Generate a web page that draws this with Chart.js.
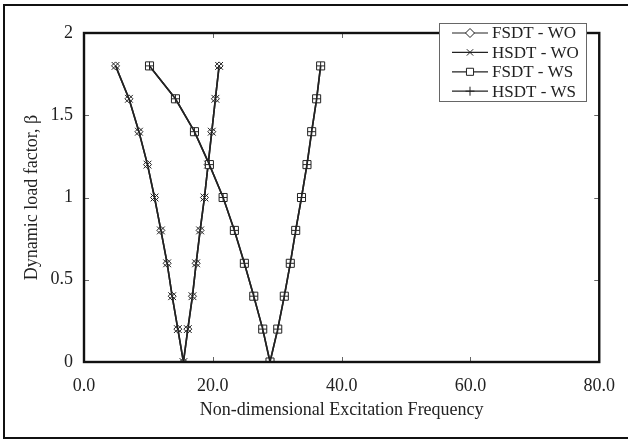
<!DOCTYPE html>
<html>
<head>
<meta charset="utf-8">
<script src="https://cdn.jsdelivr.net/npm/chart.js@4.4.0/dist/chart.umd.min.js"></script>
<style>
  html, body { margin: 0; padding: 0; background: #fff; }
  #wrap { width: 628px; height: 440px; }
</style>
</head>
<body>
<div id="wrap"><canvas id="chart" width="628" height="440"></canvas></div>
<script>
// beta levels, walking down the left branch and back up the right one
const betaLevels = [1.8, 1.6, 1.4, 1.2, 1.0, 0.8, 0.6, 0.4, 0.2, 0.0, 0.2, 0.4, 0.6, 0.8, 1.0, 1.2, 1.4, 1.6, 1.8];

const fsdtWO = [4.90, 6.98, 8.53, 9.86, 10.95, 11.94, 12.91, 13.69, 14.57, 15.44, 16.12, 16.84, 17.41, 18.03, 18.70, 19.27, 19.84, 20.40, 20.98];
const hsdtWO = [4.90, 6.98, 8.53, 9.86, 10.95, 11.94, 12.91, 13.69, 14.57, 15.44, 16.12, 16.84, 17.41, 18.03, 18.70, 19.27, 19.84, 20.40, 20.98];
const fsdtWS = [10.17, 14.20, 17.15, 19.47, 21.60, 23.35, 24.90, 26.36, 27.75, 28.88, 30.08, 31.10, 32.03, 32.87, 33.77, 34.62, 35.35, 36.12, 36.74];
const hsdtWS = [10.17, 14.20, 17.15, 19.47, 21.60, 23.35, 24.90, 26.36, 27.75, 28.88, 30.08, 31.10, 32.03, 32.87, 33.77, 34.62, 35.35, 36.12, 36.74];

const seriesLabels = ["FSDT - WO", "HSDT - WO", "FSDT - WS", "HSDT - WS"];
const xTicks = [0, 20, 40, 60, 80];
const yTicks = [0, 0.5, 1, 1.5, 2];

const FONT = "'Liberation Serif', 'Times New Roman', serif";
const INK = "#222";

function toPoints(xs) {
    return xs.map((x, i) => ({ x: x, y: betaLevels[i] }));
}

function makeSet(label, xs, style, radius, order) {
    return {
        label: label,
        data: toPoints(xs),
        showLine: true,
        borderColor: INK,
        borderWidth: 1.6,
        pointStyle: style,
        pointRadius: radius,
        pointHoverRadius: radius,
        pointBorderWidth: 1,
        pointBorderColor: INK,
        pointBackgroundColor: "#fff",
        backgroundColor: "#fff",
        order: order,
    };
}

// frame, inward ticks and the boxed legend
const decorations = {
    id: "decorations",
    beforeDraw(chart) {
        const ctx = chart.ctx;
        ctx.save();
        ctx.fillStyle = "#fff";
        ctx.fillRect(0, 0, chart.width, chart.height);
        ctx.strokeStyle = "#111";
        ctx.lineWidth = 2;
        ctx.strokeRect(4, 5, 660, 433);
        ctx.restore();
    },
    afterDatasetsDraw(chart) {
        const ctx = chart.ctx;
        const a = chart.chartArea;
        const xs = chart.scales.x;
        const ys = chart.scales.y;
        ctx.save();
        ctx.strokeStyle = "#666";
        ctx.lineWidth = 1;
        xTicks.slice(1, -1).forEach((v) => {
            const px = Math.round(xs.getPixelForValue(v)) + 0.5;
            ctx.beginPath();
            ctx.moveTo(px, a.bottom);
            ctx.lineTo(px, a.bottom - 5);
            ctx.moveTo(px, a.top);
            ctx.lineTo(px, a.top + 5);
            ctx.stroke();
        });
        yTicks.slice(1, -1).forEach((v) => {
            const py = Math.round(ys.getPixelForValue(v)) + 0.5;
            ctx.beginPath();
            ctx.moveTo(a.left, py);
            ctx.lineTo(a.left + 5, py);
            ctx.moveTo(a.right, py);
            ctx.lineTo(a.right - 5, py);
            ctx.stroke();
        });
        ctx.strokeStyle = "#111";
        ctx.lineWidth = 2.4;
        ctx.strokeRect(a.left, a.top, a.right - a.left, a.bottom - a.top);

        // legend box
        const bx = 439, by = 23, bw = 147, bh = 78;
        ctx.fillStyle = "#fff";
        ctx.fillRect(bx, by, bw, bh);
        ctx.strokeStyle = "#666";
        ctx.lineWidth = 1;
        ctx.strokeRect(bx + 0.5, by + 0.5, bw, bh);
        ctx.font = "17px " + FONT;
        ctx.textBaseline = "middle";
        chart.data.datasets.forEach((ds, i) => {
            const y = 33 + i * 19.4;
            ctx.strokeStyle = INK;
            ctx.lineWidth = 1.2;
            ctx.beginPath();
            ctx.moveTo(452, y);
            ctx.lineTo(488, y);
            ctx.stroke();
            ctx.fillStyle = "#fff";
            ctx.lineWidth = 1;
            Chart.helpers.drawPoint(ctx, {
                pointStyle: ds.pointStyle,
                radius: ds.pointStyle === "rect" ? 5 : 4.5,
                rotation: 0,
                borderWidth: 1,
            }, 470, y);
            ctx.fillStyle = INK;
            ctx.fillText(ds.label, 492, y + 1);
        });
        ctx.restore();
    },
};

new Chart(document.getElementById("chart"), {
    type: "scatter",
    data: {
        datasets: [
            makeSet(seriesLabels[0], fsdtWO, "rectRot", 4, 4),
            makeSet(seriesLabels[1], hsdtWO, "crossRot", 5.5, 3),
            makeSet(seriesLabels[2], fsdtWS, "rect", 5.7, 2),
            makeSet(seriesLabels[3], hsdtWS, "cross", 4, 1),
        ],
    },
    options: {
        responsive: false,
        animation: false,
        layout: {
            padding: { left: 0, top: 33, right: 28, bottom: 0 },
        },
        plugins: {
            legend: { display: false },
            tooltip: { enabled: false },
        },
        scales: {
            x: {
                type: "linear",
                min: 0,
                max: 80,
                afterFit(scale) {
                    scale.height = 78;
                },
                afterBuildTicks(scale) {
                    scale.ticks = xTicks.map((v) => ({ value: v }));
                },
                grid: { display: false, drawTicks: false },
                border: { display: false },
                ticks: {
                    padding: 13,
                    color: INK,
                    font: { family: FONT, size: 18 },
                    callback: (v) => Number(v).toFixed(1),
                },
                title: {
                    display: true,
                    text: "Non-dimensional Excitation Frequency",
                    color: INK,
                    font: { family: FONT, size: 18 },
                    padding: { top: 0, bottom: 19 },
                },
            },
            y: {
                type: "linear",
                min: 0,
                max: 2,
                afterFit(scale) {
                    scale.width = 84;
                },
                afterBuildTicks(scale) {
                    scale.ticks = yTicks.map((v) => ({ value: v }));
                },
                grid: { display: false, drawTicks: false },
                border: { display: false },
                ticks: {
                    padding: 11,
                    color: INK,
                    font: { family: FONT, size: 18 },
                    callback: (v) => String(v),
                },
                title: {
                    display: true,
                    text: "Dynamic load factor, β",
                    color: INK,
                    font: { family: FONT, size: 18 },
                    padding: { top: 21, bottom: 0 },
                },
            },
        },
    },
    plugins: [decorations],
});
</script>
</body>
</html>
